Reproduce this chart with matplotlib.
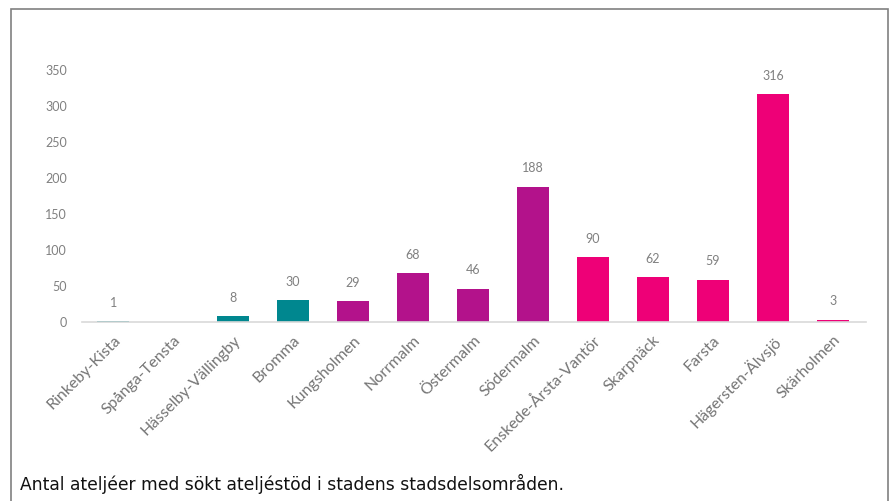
import matplotlib.pyplot as plt
from matplotlib.patches import Rectangle

# Data
districts = ['Rinkeby-Kista', 'Spånga-Tensta', 'Hässelby-Vällingby', 'Bromma',
             'Kungsholmen', 'Norrmalm', 'Östermalm', 'Södermalm',
             'Enskede-Årsta-Vantör', 'Skarpnäck', 'Farsta', 'Hägersten-Älvsjö',
             'Skärholmen']
counts = [1, 0, 8, 30, 29, 68, 46, 188, 90, 62, 59, 316, 3]
labels = ['1', '', '8', '30', '29', '68', '46', '188', '90', '62', '59', '316', '3']
groups = ['west', 'west', 'west', 'west', 'inner', 'inner', 'inner', 'inner',
          'south', 'south', 'south', 'south', 'south']
yticks = [0, 50, 100, 150, 200, 250, 300, 350]
caption = 'Antal ateljéer med sökt ateljéstöd i stadens stadsdelsområden.'

group_colors = {'west': '#00878f', 'inner': '#b3128b', 'south': '#ee0077'}
colors = [group_colors[g] for g in groups]

W, H = 890, 501
fig = plt.figure(figsize=(W / 100, H / 100), dpi=100)
fig.patch.set_facecolor('white')

# Axes placed in pixel terms
left, right, base, top = 82, 866, 322, 70
ax = fig.add_axes([left / W, 1 - base / H, (right - left) / W, (base - top) / H])

x = range(len(districts))
ax.bar(x, counts, width=0.53, color=colors, zorder=2)

for xi, v, lab in zip(x, counts, labels):
    if lab:
        ax.annotate(lab, (xi, v), xytext=(0, 9), textcoords='offset points',
                    ha='center', va='bottom', fontsize=9, color='#808080',
                    family='Lato')

ax.set_xlim(-0.52, 12.55)
ax.set_ylim(0, 350)
ax.set_yticks(yticks)
ax.set_yticklabels([str(t) for t in yticks], fontsize=9, color='#808080',
                   family='Lato')
ax.tick_params(axis='y', length=0, pad=11)
ax.set_xticks(list(x))
ax.set_xticklabels(districts, rotation=45, ha='right', rotation_mode='anchor',
                   fontsize=11.5, color='#757575', family='Lato')
ax.tick_params(axis='x', length=0, pad=8)

for s in ['top', 'right', 'left']:
    ax.spines[s].set_visible(False)
ax.spines['bottom'].set_color('#d9d9d9')
ax.spines['bottom'].set_linewidth(1.2)

# caption
fig.text(20 / W, 1 - 484 / H, caption, fontsize=12.3, color='#111111',
         family='DejaVu Sans', va='center', ha='left')

# outer frame
fig.patches.append(Rectangle((11 / W, -0.05), (888 - 11) / W, 1.05 - 9 / H,
                             transform=fig.transFigure, fill=False,
                             edgecolor='#808080', linewidth=1.2))

fig.savefig('out.png', dpi=100)
